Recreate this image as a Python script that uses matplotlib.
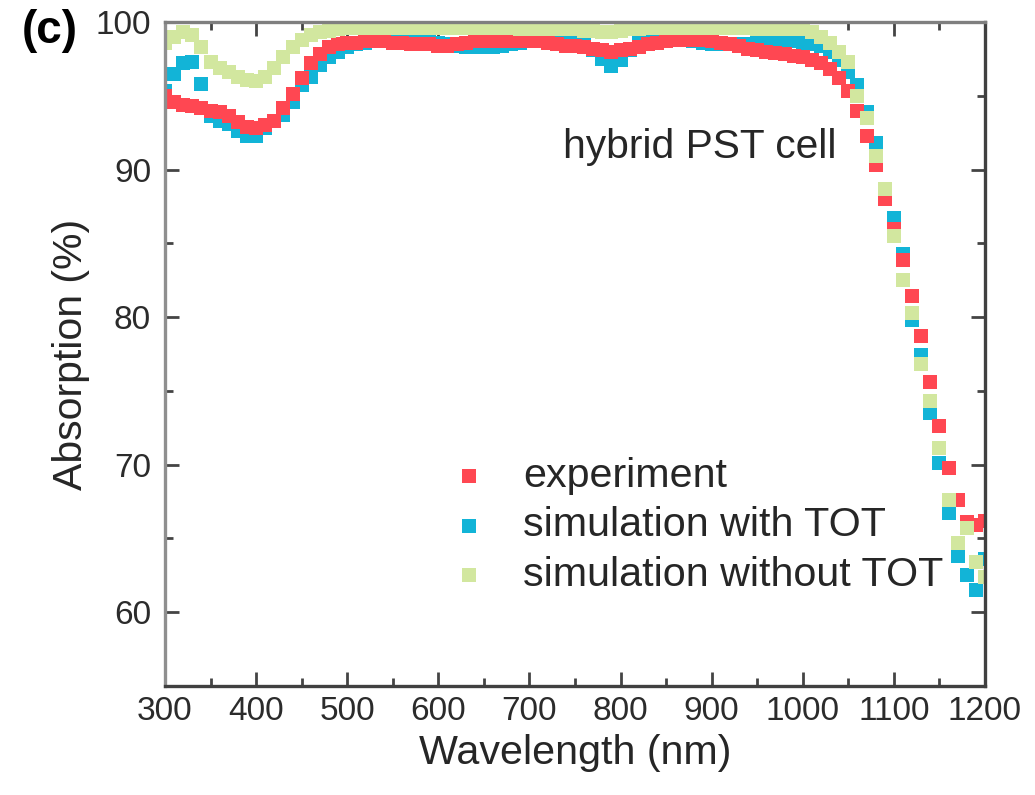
import numpy as np
import matplotlib
matplotlib.use('Agg')
import matplotlib.pyplot as plt
from matplotlib.ticker import MultipleLocator

plt.rcParams['font.family'] = ['Liberation Sans', 'DejaVu Sans']
plt.rcParams['text.color'] = '#262626'
plt.rcParams['axes.labelcolor'] = '#262626'

# wavelength grid of the measured / simulated spectra (nm)
wavelength = list(range(300, 1201, 10))

# absorption (%), one value every 10 nm
experiment = [
    95.0, 94.6, 94.4, 94.3, 94.2, 94.0, 93.9, 93.6, 93.2, 92.9,   # 300-390
    92.8, 93.0, 93.3, 94.2, 95.1, 96.2, 97.2, 97.8, 98.3, 98.5,   # 400-490
    98.6, 98.6, 98.7, 98.7, 98.7, 98.6, 98.6, 98.5, 98.5, 98.5,   # 500-590
    98.4, 98.4, 98.5, 98.6, 98.7, 98.7, 98.7, 98.7, 98.7, 98.7,   # 600-690
    98.7, 98.7, 98.6, 98.5, 98.4, 98.4, 98.3, 98.2, 98.1, 98.0,   # 700-790
    98.1, 98.2, 98.3, 98.5, 98.6, 98.7, 98.8, 98.8, 98.8, 98.8,   # 800-890
    98.7, 98.6, 98.5, 98.4, 98.2, 98.1, 98.0, 97.9, 97.8, 97.7,   # 900-990
    97.6, 97.4, 97.2, 96.8, 96.2, 95.3, 94.0, 92.3, 90.3, 88.0,   # 1000-1090
    86.0, 83.9, 81.4, 78.7, 75.6, 72.6, 69.8, 67.6, 66.1, 65.9,   # 1100-1190
    66.2,
]
sim_tot = [
    95.3, 96.5, 97.2, 97.3, 95.8, 93.6, 93.3, 93.1, 92.6, 92.3,   # 300-390
    92.3, 92.8, 93.3, 93.7, 94.6, 95.7, 96.3, 97.1, 97.6, 98.0,   # 400-490
    98.3, 98.5, 98.6, 98.7, 98.8, 98.8, 98.8, 98.8, 98.8, 98.7,   # 500-590
    98.6, 98.5, 98.4, 98.3, 98.3, 98.3, 98.3, 98.4, 98.5, 98.6,   # 600-690
    98.7, 98.8, 98.9, 98.9, 98.8, 98.7, 98.5, 98.1, 97.5, 97.0,   # 700-790
    97.4, 98.1, 98.6, 98.8, 98.9, 98.9, 98.9, 98.8, 98.7, 98.6,   # 800-890
    98.5, 98.5, 98.5, 98.5, 98.5, 98.6, 98.6, 98.7, 98.7, 98.7,   # 900-990
    98.6, 98.5, 98.4, 98.0, 97.4, 96.6, 95.7, 93.9, 91.8, 88.2,   # 1000-1090
    86.7, 84.3, 79.8, 77.4, 73.5, 70.1, 66.7, 63.8, 62.5, 61.5,   # 1100-1190
    63.6,
]
sim_no_tot = [
    98.6, 99.0, 99.3, 99.1, 98.3, 97.3, 96.9, 96.6, 96.3, 96.1,   # 300-390
    96.0, 96.3, 96.9, 97.6, 98.3, 98.8, 99.1, 99.3, 99.4, 99.5,   # 400-490
    99.6, 99.6, 99.6, 99.6, 99.6, 99.6, 99.6, 99.6, 99.6, 99.6,   # 500-590
    99.6, 99.6, 99.6, 99.6, 99.6, 99.6, 99.6, 99.6, 99.6, 99.5,   # 600-690
    99.5, 99.5, 99.5, 99.5, 99.5, 99.5, 99.4, 99.4, 99.3, 99.3,   # 700-790
    99.4, 99.5, 99.5, 99.6, 99.6, 99.6, 99.6, 99.6, 99.6, 99.6,   # 800-890
    99.6, 99.6, 99.6, 99.6, 99.6, 99.5, 99.5, 99.5, 99.5, 99.5,   # 900-990
    99.5, 99.3, 99.0, 98.6, 98.0, 97.3, 95.0, 93.5, 90.9, 88.7,   # 1000-1090
    85.5, 82.5, 80.3, 76.8, 74.3, 71.1, 67.6, 64.7, 65.7, 63.4,   # 1100-1190
    62.4,
]

c_exp = '#ff4752'
c_tot = '#12b4d7'
c_no = '#d2e79f'

fig = plt.figure(figsize=(10.35, 7.95), dpi=100)
ax = fig.add_axes([165/1035, 109/795, 820/1035, 664/795])

ms = 95
ax.scatter(wavelength, sim_tot, s=ms, marker='s', color=c_tot, linewidths=0,
           label='simulation with TOT', zorder=2)
ax.scatter(wavelength, experiment, s=ms, marker='s', color=c_exp, linewidths=0,
           label='experiment', zorder=3)
ax.scatter(wavelength, sim_no_tot, s=ms, marker='s', color=c_no, linewidths=0,
           label='simulation without TOT', zorder=4)

ax.set_xlim(300, 1200)
ax.set_ylim(55, 100)
ax.xaxis.set_major_locator(MultipleLocator(100))
ax.xaxis.set_minor_locator(MultipleLocator(50))
ax.yaxis.set_minor_locator(MultipleLocator(5))
ax.set_yticks([60, 70, 80, 90, 100])

ax.tick_params(which='both', direction='in', top=True, right=True,
               color='#444444', width=2.0, labelsize=24, labelcolor='#2b2b2b')
ax.tick_params(which='major', length=10)
ax.tick_params(which='minor', length=6)
ax.tick_params(axis='x', pad=7)
ax.tick_params(axis='y', pad=10)

for side, col in [('left', '#8f8f8f'), ('top', '#7f7f7f'),
                  ('right', '#404040'), ('bottom', '#404040')]:
    ax.spines[side].set_color(col)
    ax.spines[side].set_linewidth(2.4)
    ax.spines[side].set_zorder(6)

ax.set_xlabel('Wavelength (nm)', fontsize=29.7, labelpad=5)
ax.set_ylabel('Absorption (%)', fontsize=29.5, labelpad=4)

ax.text(737, 90.8, 'hybrid PST cell', fontsize=29.3, va='baseline', ha='left')

handles, labels = ax.get_legend_handles_labels()
order = [1, 0, 2]
ax.legend([handles[i] for i in order], [labels[i] for i in order],
          loc='upper left', bbox_to_anchor=(0.345, 0.345), frameon=False,
          fontsize=29.7, handlelength=1.0, handletextpad=0.83,
          labelspacing=0.28, borderpad=0, borderaxespad=0,
          scatterpoints=1, markerscale=1.05)

fig.text(22/1035, 1 - 43/795, '(c)', fontsize=33, fontweight='bold',
         color='black', ha='left', va='baseline')

fig.savefig('out.png', dpi=100)
